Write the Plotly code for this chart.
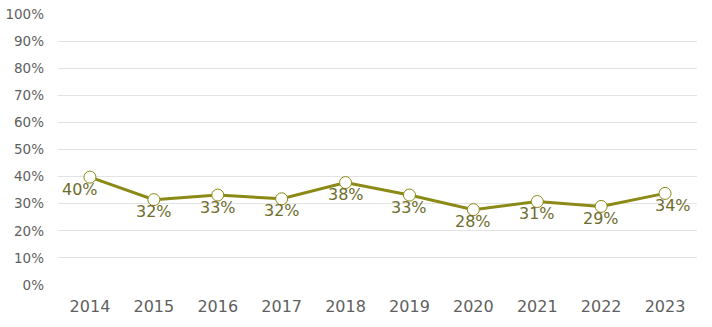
import plotly.graph_objects as go

years = ["2014", "2015", "2016", "2017", "2018", "2019", "2020", "2021", "2022", "2023"]
values = [39.8, 31.5, 33.2, 31.8, 37.8, 33.2, 27.8, 30.8, 29.0, 33.8]
labels = ["40%", "32%", "33%", "32%", "38%", "33%", "28%", "31%", "29%", "34%"]
y_ticks = [0, 10, 20, 30, 40, 50, 60, 70, 80, 90, 100]
y_tick_text = [f"{v}%" for v in y_ticks]

line_color = "#8c8a16"
label_color = "#6e6c2c"

fig = go.Figure()
fig.add_trace(go.Scatter(
    x=years, y=values, mode="lines+markers",
    line=dict(color=line_color, width=3),
    marker=dict(size=12, color="white", line=dict(color=line_color, width=1)),
    hoverinfo="skip",
))

xshifts = [-10, 0, 0, 0, 0, 0, 0, 0, 0, 8]
for i, (v, t, xs) in enumerate(zip(values, labels, xshifts)):
    fig.add_annotation(x=i, y=v, text=t, showarrow=False, yshift=-12, xshift=xs,
                       font=dict(family="DejaVu Sans", size=16, color=label_color))

fig.update_layout(
    width=712, height=327,
    margin=dict(l=58, r=15, t=14, b=42),
    paper_bgcolor="white", plot_bgcolor="white",
    showlegend=False,
    font=dict(family="DejaVu Sans", color="#5f5f5f"),
)
fig.update_xaxes(type="category", range=[-0.5, 9.5], showgrid=False, showline=False,
                 zeroline=False, tickfont=dict(size=16, color="#5f5f5f"), ticks="",
                 ticklabelstandoff=10, automargin=False)
fig.update_yaxes(range=[0, 100], tickvals=y_ticks, ticktext=y_tick_text,
                 showgrid=True, gridcolor="#e3e3e3", gridwidth=1, zeroline=False,
                 showline=False, tickfont=dict(size=13.5, color="#5f5f5f"), ticks="",
                 ticklabelstandoff=13, automargin=False)

fig.write_html("out.html")
